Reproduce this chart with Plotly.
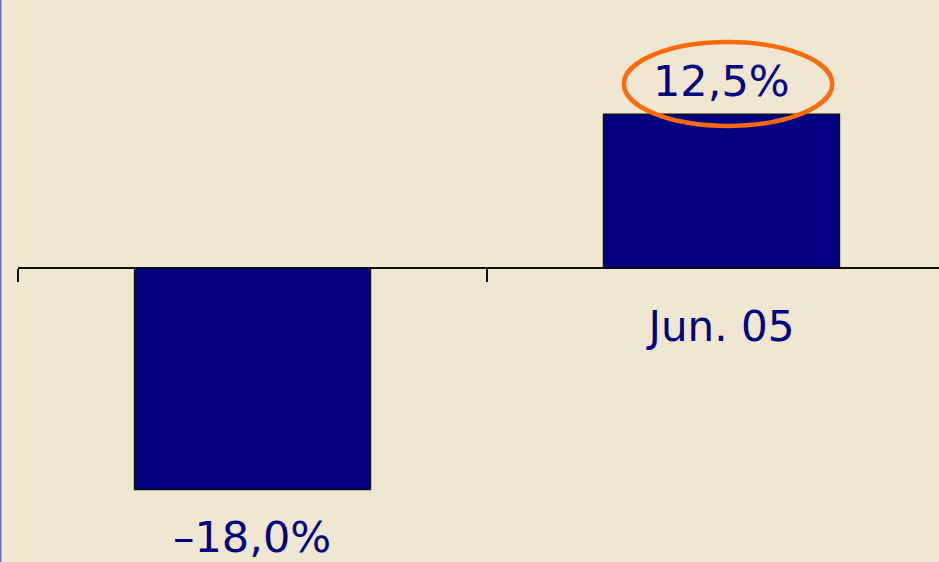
import plotly.graph_objects as go

# Data
categories = ["Jun. 04", "Jun. 05"]
values = [-18.0, 12.5]
value_labels = ["–18,0%", "12,5%"]

BG = "#EFE7D2"
NAVY = "#000080"
FONT = "DejaVu Sans"

fig = go.Figure()
fig.add_trace(go.Bar(
    x=categories, y=values, width=0.503,
    marker=dict(color=NAVY, line=dict(color="#111111", width=1.5)),
    hoverinfo="skip", showlegend=False,
))

# data labels
for c, v, t in zip(categories, values, value_labels):
    fig.add_annotation(
        x=c, y=v, text=t, showarrow=False, xref="x", yref="y",
        yanchor="bottom" if v >= 0 else "top",
        yshift=6 if v >= 0 else -21,
        font=dict(family=FONT, size=43, color=NAVY),
    )

# highlight ellipse around the positive label
fig.add_shape(type="circle", xref="x", yref="y",
              x0=0.792, x1=1.236, y0=11.55, y1=18.37,
              line=dict(color="#FF6A0A", width=4.5))

# left border line
fig.add_shape(type="line", xref="paper", yref="paper",
              x0=-0.0190, x1=-0.0190, y0=0, y1=1,
              line=dict(color="#6E6EC8", width=2))

k = 12.3
fig.update_layout(
    width=939, height=562,
    margin=dict(l=18, r=0, t=0, b=0),
    paper_bgcolor=BG, plot_bgcolor=BG,
    bargap=0.5,
    xaxis=dict(
        type="category", range=[-0.5, 1.4638],
        anchor="free", position=294 / 562,
        showline=True, linecolor="#111111", linewidth=2,
        ticks="outside", ticklen=13, tickwidth=2, tickcolor="#111111",
        tickson="boundaries", layer="below traces",
        tickfont=dict(family=FONT, size=42, color=NAVY),
        ticklabelstandoff=22,
        showgrid=False, zeroline=False, fixedrange=True,
    ),
    yaxis=dict(
        range=[-294 / k, 268 / k], visible=False,
        showgrid=False, zeroline=False, fixedrange=True,
    ),
)

fig.write_html(
    "out.html",
    config={"displayModeBar": False, "staticPlot": True},
    post_script="document.body.style.margin='0px';document.body.style.overflow='hidden';",
)
